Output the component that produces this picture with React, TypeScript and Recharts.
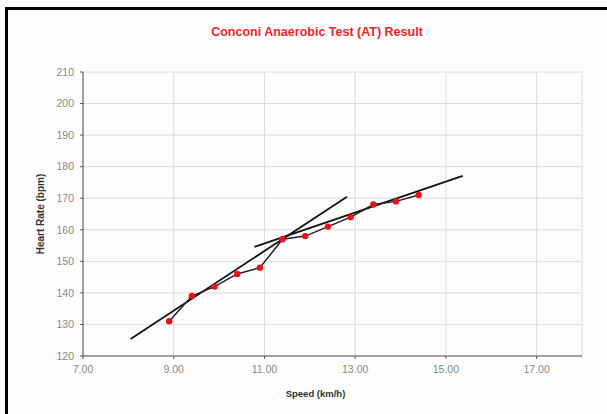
import React from 'react';
import { ComposedChart, Line, XAxis, YAxis, CartesianGrid, Label } from 'recharts';

const speeds = [8.9, 9.4, 9.9, 10.4, 10.9, 11.4, 11.9, 12.4, 12.9, 13.4, 13.9, 14.4];
const heartRates = [131, 139, 142, 146, 148, 157, 158, 161, 164, 168, 169, 171];

// fitted lines (ends only)
const lowTrendX = [8.05, 12.82];
const lowTrendY = [125.4, 170.5];
const highTrendX = [10.78, 15.37];
const highTrendY = [154.6, 177.1];

const xTicks = [7, 9, 11, 13, 15, 17];
const yTicks = [120, 130, 140, 150, 160, 170, 180, 190, 200, 210];

const FONT = '"Liberation Sans", Arial, sans-serif';

const measured = speeds.map((s, i) => ({ x: s, hr: heartRates[i] }));
const lowTrend = lowTrendX.map((s, i) => ({ x: s, hr: lowTrendY[i] }));
const highTrend = highTrendX.map((s, i) => ({ x: s, hr: highTrendY[i] }));

const RedDot = (props: any) => {
  const { cx, cy } = props;
  if (cx == null || cy == null) return null;
  return <circle cx={cx} cy={cy} r={3.2} fill="#e8101a" stroke="none" />;
};

export default function App() {
  return (
    <div style={{ position: 'absolute', left: 0, top: 0, width: 607, height: 414, background: '#fdfdfd', overflow: 'hidden', fontFamily: FONT }}>
      <div style={{ position: 'absolute', left: 5, top: 7, width: 700, height: 500, borderLeft: '3px solid #000', borderTop: '3px solid #000' }} />
      <div style={{ position: 'absolute', left: 0, top: 25, width: 634, textAlign: 'center', color: '#e8262a', fontWeight: 'bold', fontSize: 12.5 }}>
        Conconi Anaerobic Test (AT) Result
      </div>
      <div style={{ position: 'absolute', left: 0, top: 0 }}>
        <ComposedChart width={607} height={414} margin={{ top: 72, right: 25, bottom: 18, left: 38 }}>
          <CartesianGrid stroke="#dcdcdc" strokeWidth={1} />
          <XAxis
            type="number"
            dataKey="x"
            domain={[7, 18]}
            ticks={xTicks}
            tickFormatter={(v: number) => v.toFixed(2)}
            allowDuplicatedCategory={false}
            stroke="#555"
            tickSize={3}
            tickMargin={7}
            height={40}
            tick={{ fill: '#888', fontSize: 10.5, fontFamily: FONT }}
          >
            <Label value="Speed (km/h)" position="insideBottom" offset={-1} dx={-17} style={{ fill: '#333', fontSize: 9.5, fontWeight: 'bold', fontFamily: FONT }} />
          </XAxis>
          <YAxis
            type="number"
            domain={[120, 210]}
            ticks={yTicks}
            stroke="#555"
            tickSize={3}
            tickMargin={6}
            width={45}
            tick={{ fill: '#888', fontSize: 10.5, fontFamily: FONT }}
          >
            <Label value="Heart Rate (bpm)" angle={-90} position="insideLeft" offset={2} style={{ fill: '#333', fontSize: 10, fontWeight: 'bold', fontFamily: FONT, textAnchor: 'middle' }} />
          </YAxis>
          <Line data={lowTrend} dataKey="hr" type="linear" stroke="#111" strokeWidth={1.8} dot={false} isAnimationActive={false} />
          <Line data={highTrend} dataKey="hr" type="linear" stroke="#111" strokeWidth={1.8} dot={false} isAnimationActive={false} />
          <Line data={measured} dataKey="hr" type="linear" stroke="#222" strokeWidth={1.5} dot={<RedDot />} isAnimationActive={false} />
        </ComposedChart>
      </div>
    </div>
  );
}
